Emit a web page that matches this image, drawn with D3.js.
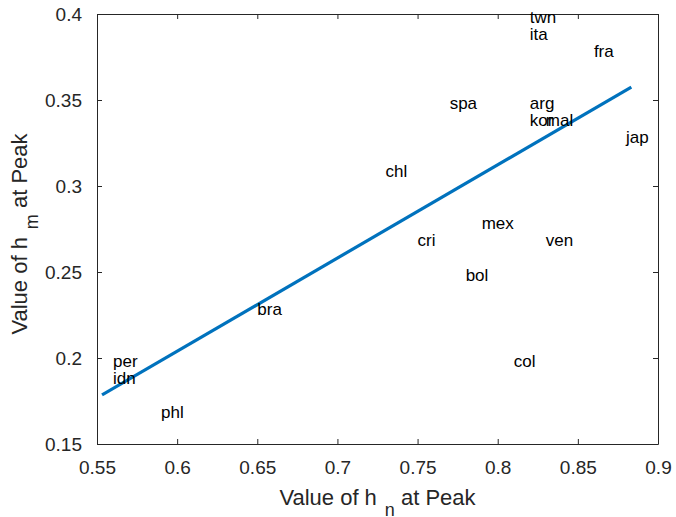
<!DOCTYPE html>
<html lang="en">
<head>
    <meta charset="UTF-8">
    <title>h_m vs h_n at Peak</title>
    <style>
        body {
            margin: 0;
            background: white;
        }

        svg {
            display: block;
            font-family: "Liberation Sans", Arial, sans-serif;
        }

        .axis path,
        .axis line {
            stroke: #262626;
        }

        .axis text {
            fill: #262626;
            font-size: 19px;
        }

        .label {
            font-size: 17px;
            fill: black;
        }

        .title {
            font-size: 22px;
            fill: #262626;
        }
    </style>
</head>
<body>
<svg class="chart"></svg>
<script src="https://cdnjs.cloudflare.com/ajax/libs/d3/7.8.5/d3.min.js"></script>
<script>

// country codes and their values of h_n / h_m at peak
const countries = ["twn", "ita", "fra", "spa", "arg", "kor", "mal", "jap", "chl",
                   "mex", "cri", "ven", "bol", "bra", "col", "per", "idn", "phl"];
const hn = [0.82, 0.82, 0.86, 0.77, 0.82, 0.82, 0.83, 0.88, 0.73,
            0.79, 0.75, 0.83, 0.78, 0.65, 0.81, 0.56, 0.56, 0.59];
const hm = [0.40, 0.39, 0.38, 0.35, 0.35, 0.34, 0.34, 0.33, 0.31,
            0.28, 0.27, 0.27, 0.25, 0.23, 0.20, 0.20, 0.19, 0.17];

// fitted line end points
const fitX = [0.554, 0.8825];
const fitY = [0.179, 0.357];

const xTicks = [0.55, 0.6, 0.65, 0.7, 0.75, 0.8, 0.85, 0.9];
const yTicks = [0.15, 0.2, 0.25, 0.3, 0.35, 0.4];

const width = 676, height = 517;
const margin = { top: 14, right: 18, bottom: 73, left: 97 };

const svg = d3.select("svg")
    .attr("width", width)
    .attr("height", height);

const x = d3.scaleLinear()
    .domain([0.55, 0.9])
    .range([margin.left, width - margin.right]);

const y = d3.scaleLinear()
    .domain([0.15, 0.4])
    .range([height - margin.bottom, margin.top]);

const fmt = d => String(+d.toFixed(2));

// axes, ticks pointing inward like matlab, box on all four sides
svg.append("g")
    .attr("class", "axis")
    .attr("transform", `translate(0, ${y(0.15)})`)
    .call(d3.axisBottom(x).tickValues(xTicks).tickFormat(fmt).tickSizeInner(-5).tickSizeOuter(0).tickPadding(17));

svg.append("g")
    .attr("class", "axis")
    .attr("transform", `translate(${x(0.55)}, 0)`)
    .call(d3.axisLeft(y).tickValues(yTicks).tickFormat(fmt).tickSizeInner(-5).tickSizeOuter(0).tickPadding(15));

svg.append("g")
    .attr("class", "axis")
    .attr("transform", `translate(0, ${y(0.4)})`)
    .call(d3.axisTop(x).tickValues(xTicks).tickFormat("").tickSizeInner(-5).tickSizeOuter(0));

svg.append("g")
    .attr("class", "axis")
    .attr("transform", `translate(${x(0.9)}, 0)`)
    .call(d3.axisRight(y).tickValues(yTicks).tickFormat("").tickSizeInner(-5).tickSizeOuter(0));

// fit line
svg.append("line")
    .attr("x1", x(fitX[0]))
    .attr("y1", y(fitY[0]))
    .attr("x2", x(fitX[1]))
    .attr("y2", y(fitY[1]))
    .attr("stroke", "#0072BD")
    .attr("stroke-width", 3.2)
    .attr("stroke-linecap", "square");

// country labels, left aligned, vertically centred on the point
svg.append("g")
    .selectAll("text")
    .data(countries)
    .join("text")
    .attr("class", "label")
    .attr("x", (d, i) => x(hn[i]))
    .attr("y", (d, i) => y(hm[i]))
    .attr("dy", "0.5em")
    .text(d => d);

// axis titles with subscripts
const xTitle = svg.append("text")
    .attr("class", "title")
    .attr("x", (x(0.55) + x(0.9)) / 2)
    .attr("y", 505)
    .attr("text-anchor", "middle");
xTitle.append("tspan").text("Value of h");
xTitle.append("tspan").attr("dx", 8).attr("dy", 11).attr("font-size", "18px").text("n");
xTitle.append("tspan").attr("dy", -11).text(" at Peak");

const yTitle = svg.append("text")
    .attr("class", "title")
    .attr("transform", `translate(27, ${(y(0.15) + y(0.4)) / 2 + 5}) rotate(-90)`)
    .attr("text-anchor", "middle");
yTitle.append("tspan").text("Value of h");
yTitle.append("tspan").attr("dx", 8).attr("dy", 11).attr("font-size", "18px").text("m");
yTitle.append("tspan").attr("dy", -11).text(" at Peak");

</script>
</body>
</html>
